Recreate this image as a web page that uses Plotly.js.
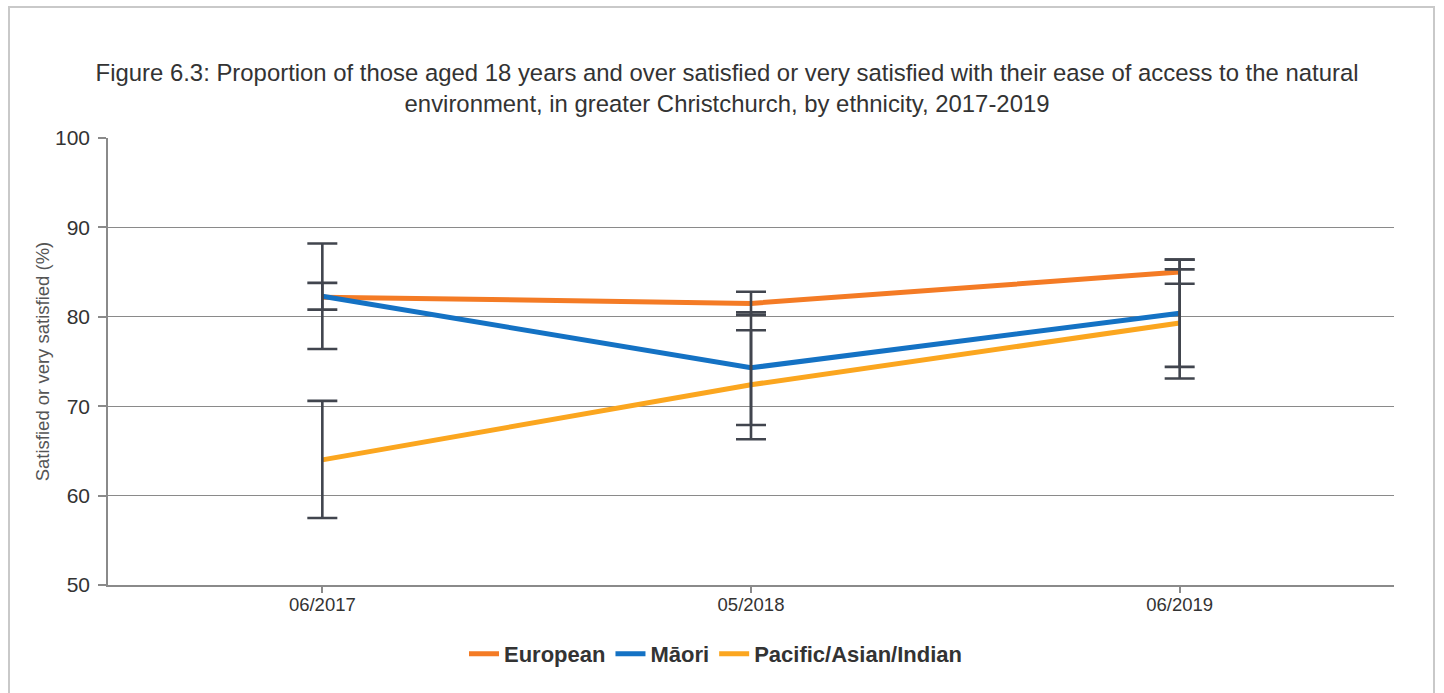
<!DOCTYPE html>
<html>
<head>
<meta charset="utf-8">
<script src="https://cdn.plot.ly/plotly-3.0.1.min.js"></script>
<style>
  html, body { margin: 0; padding: 0; background: #ffffff; }
  #frame { position: absolute; left: 8px; top: 6px; width: 1427px; height: 720px; border: 2px solid #c9c9c9; box-sizing: border-box; }
  #chart { position: absolute; left: 0; top: 0; width: 1444px; height: 693px; }
</style>
</head>
<body>
<div id="frame"></div>
<div id="chart"></div>
<script>
const categories = ['06/2017', '05/2018', '06/2019'];

const european      = [82.2, 81.5, 85.0];
const europeanUpper = [83.8, 82.8, 86.4];
const europeanLower = [80.8, 80.2, 83.7];

const maori      = [82.3, 74.3, 80.4];
const maoriUpper = [88.2, 80.5, 86.4];
const maoriLower = [76.4, 67.9, 74.4];

const pacific      = [64.0, 72.4, 79.3];
const pacificUpper = [70.6, 78.5, 85.3];
const pacificLower = [57.5, 66.3, 73.1];

const yTicks = [50, 60, 70, 80, 90, 100];

const series = [
  { name: 'European', values: european, upper: europeanUpper, lower: europeanLower, color: '#f47b25' },
  { name: 'M\u0101ori', values: maori, upper: maoriUpper, lower: maoriLower, color: '#1472c4' },
  { name: 'Pacific/Asian/Indian', values: pacific, upper: pacificUpper, lower: pacificLower, color: '#fba61f' }
];

const traces = [];
series.forEach(s => {
  traces.push({
    type: 'scatter', mode: 'lines', name: s.name,
    x: categories, y: s.values,
    line: { color: s.color, width: 5 },
    hoverinfo: 'x+y+name'
  });
});
series.forEach(s => {
  traces.push({
    type: 'scatter', mode: 'markers', showlegend: false, hoverinfo: 'skip',
    x: categories, y: s.values,
    marker: { size: 1, color: 'rgba(0,0,0,0)' },
    error_y: {
      type: 'data', symmetric: false,
      array: s.upper.map((u, i) => u - s.values[i]),
      arrayminus: s.values.map((v, i) => v - s.lower[i]),
      color: '#41454e', thickness: 2.6, width: 15
    }
  });
});

const layout = {
  width: 1444, height: 693,
  paper_bgcolor: 'rgba(0,0,0,0)', plot_bgcolor: 'rgba(0,0,0,0)',
  margin: { l: 108, r: 50, t: 138, b: 108 },
  font: { family: 'Liberation Sans, Arial, sans-serif', color: '#333333' },
  title: {
    text: 'Figure 6.3: Proportion of those aged 18 years and over satisfied or very satisfied with their ease of access to the natural<br>environment, in greater Christchurch, by ethnicity, 2017-2019',
    font: { size: 23.9, color: '#333333', family: 'Liberation Sans, Arial, sans-serif' },
    xref: 'container', yref: 'container', x: 0.5035, y: 0.8825, xanchor: 'center', yanchor: 'middle'
  },
  xaxis: {
    type: 'category', range: [-0.5, 2.5],
    showgrid: false, zeroline: false,
    showline: true, linecolor: '#8a8a8a', linewidth: 1.5,
    ticks: 'outside', ticklen: 6, tickcolor: '#8a8a8a', tickwidth: 1.5,
    ticklabelstandoff: -4,
    tickfont: { size: 18.5, color: '#333333' }
  },
  yaxis: {
    range: [50, 100], tickvals: yTicks, ticktext: yTicks.map(String),
    showgrid: true, gridcolor: '#8a8a8a', gridwidth: 1.3, zeroline: false,
    showline: true, linecolor: '#8a8a8a', linewidth: 1.5,
    ticks: 'outside', ticklen: 8, tickcolor: '#8a8a8a', tickwidth: 1.5,
    ticklabelstandoff: 4,
    tickfont: { size: 21, color: '#333333' },
    title: { text: 'Satisfied or very satisfied (%)', font: { size: 18.5, color: '#555555' }, standoff: 1 }
  },
  showlegend: true,
  legend: {
    orientation: 'h', x: 0.4724, xanchor: 'center', y: -0.154, yanchor: 'middle',
    font: { size: 22, color: '#333333', family: 'Liberation Sans, Arial, sans-serif', weight: 'bold' },
    bgcolor: 'rgba(0,0,0,0)'
  },
  hovermode: 'closest'
};

Plotly.newPlot('chart', traces, layout, { displayModeBar: false, staticPlot: false });
</script>
</body>
</html>
